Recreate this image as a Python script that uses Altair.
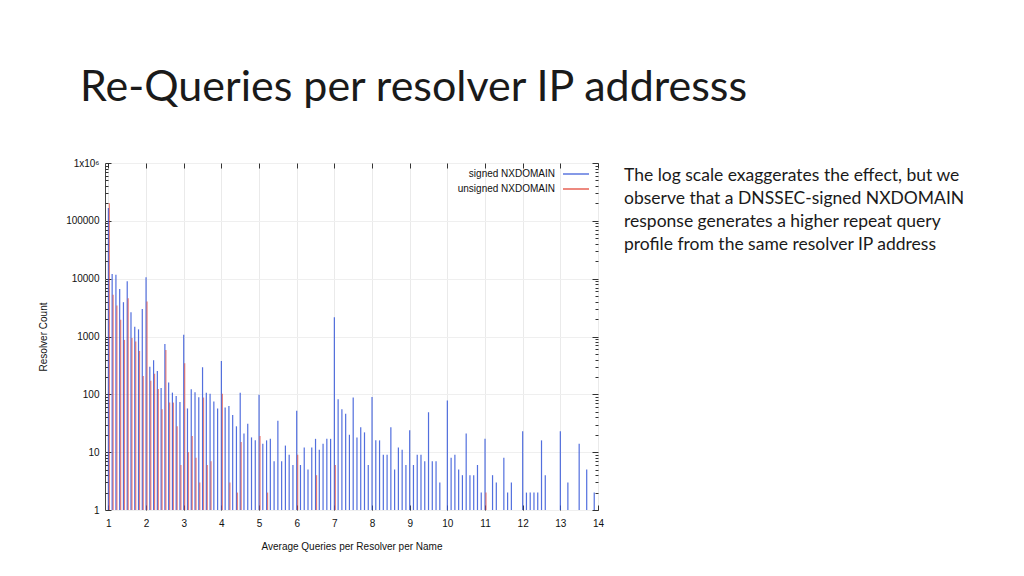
import altair as alt
import pandas as pd

# ---- data (bins of 0.1 queries) ----
signed_x = [1.0, 1.1, 1.2, 1.3, 1.4, 1.5, 1.6, 1.7, 1.8, 1.9,
            2.0, 2.1, 2.2, 2.3, 2.4, 2.5, 2.6, 2.7, 2.8, 2.9,
            3.0, 3.1, 3.2, 3.3, 3.4, 3.5, 3.6, 3.7, 3.8, 3.9,
            4.0, 4.1, 4.2, 4.3, 4.4, 4.5, 4.6, 4.7, 4.8, 4.9,
            5.0, 5.1, 5.2, 5.3, 5.4, 5.5, 5.6, 5.7, 5.8, 5.9,
            6.0, 6.1, 6.2, 6.3, 6.4, 6.5, 6.6, 6.7, 6.8, 6.9,
            7.0, 7.1, 7.2, 7.3, 7.4, 7.5, 7.6, 7.7, 7.8, 7.9,
            8.0, 8.1, 8.2, 8.3, 8.4, 8.5, 8.6, 8.7, 8.8, 8.9,
            9.0, 9.1, 9.2, 9.3, 9.4, 9.5, 9.6, 9.7, 9.8,
            10.0, 10.1, 10.2, 10.3, 10.4, 10.5, 10.6, 10.7, 10.8, 10.9,
            11.0, 11.2, 11.3, 11.5, 11.6, 11.7,
            12.0, 12.1, 12.2, 12.3, 12.4, 12.5, 12.6,
            13.0, 13.2, 13.5, 13.7, 13.9]
signed_count = [166000, 12100, 11700, 6660, 3920, 9040, 2630, 1480, 1330, 3000,
                10600, 301, 389, 254, 129, 745, 160, 107, 94, 74,
                1070, 57, 122, 109, 89, 294, 107, 102, 75, 57,
                378, 59, 63, 44, 28, 107, 21, 31, 18, 16,
                98, 14, 16, 17, 7, 35, 7, 13, 9, 6,
                52, 6, 12, 5, 12, 17, 11, 14, 17, 17,
                2150, 82, 55, 46, 20, 88, 18, 27, 22, 6,
                90, 16, 16, 9, 9, 27, 5, 12, 11, 6,
                24, 6, 9, 9, 7, 49, 7, 7, 3,
                78, 8, 9, 5, 4, 21, 4, 4, 6, 2,
                17, 4, 3, 8, 2, 3,
                23, 2, 2, 2, 2, 16, 4,
                23, 3, 14, 5, 2]

unsigned_x = [1.0, 1.1, 1.2, 1.3, 1.4, 1.5, 1.6, 1.7, 1.8, 1.9,
              2.0, 2.1, 2.2, 2.3, 2.4, 2.5, 2.6, 2.7, 2.8, 2.9,
              3.0, 3.1, 3.2, 3.3, 3.4, 3.5, 3.6, 3.7,
              4.0, 4.2, 4.4, 4.5, 5.0, 5.2, 6.0, 6.5, 7.0, 11.0]
unsigned_count = [202000, 5250, 3430, 1940, 873, 4590, 940, 816, 563, 208,
                  4020, 171, 227, 124, 55, 587, 72, 72, 28, 6,
                  345, 10, 19, 8, 3, 88, 6, 7,
                  102, 3, 2, 15, 19, 2, 9, 4, 6, 2]

series_names = ["signed NXDOMAIN", "unsigned NXDOMAIN"]
x_ticks = list(range(1, 15))
y_major = [1, 10, 100, 1000, 10000, 100000, 1000000]
y_minor = [m * 10 ** k for k in range(6) for m in range(2, 10)]

title_text = "Re-Queries per resolver IP addresss"
note_lines = ["The log scale exaggerates the effect, but we",
              "observe that a DNSSEC-signed NXDOMAIN",
              "response generates a higher repeat query",
              "profile from the same resolver IP address"]

BLUE = "#3456d8"
RED = "#e23b2b"
AXFONT = "Liberation Sans"

df_s = pd.DataFrame({"x": signed_x, "count": signed_count, "series": series_names[0]})
df_u = pd.DataFrame({"x": unsigned_x, "count": unsigned_count, "series": series_names[1]})

W, H = 493, 347
xscale = alt.Scale(domain=[0.91, 14], nice=False, zero=False)
yscale = alt.Scale(type="log", domain=[1, 1000000], nice=False)

# main layers with labelled axes
signed = alt.Chart(df_s).mark_rule(color=BLUE, strokeWidth=1.2, opacity=0.85).encode(
    x=alt.X("x:Q", scale=xscale,
            axis=alt.Axis(orient="bottom", values=x_ticks, format="d", ticks=False,
                          domain=False, grid=True, gridColor="#eaeaea", labelPadding=8,
                          labelFlush=False,
                          labelFont=AXFONT, labelFontSize=10, labelColor="#111",
                          title="Average Queries per Resolver per Name",
                          titleFont=AXFONT, titleFontSize=10, titleFontWeight="normal",
                          titleColor="#111", titleY=39, titleBaseline="alphabetic")),
    y=alt.Y("count:Q", scale=yscale,
            axis=alt.Axis(orient="left", values=y_major, ticks=False, domain=False,
                          grid=True, gridColor="#efefef", labelPadding=6,
                          labelFlush=False,
                          labelExpr="datum.value >= 1000000 ? '1x10⁶' : format(datum.value, 'd')",
                          labelFont=AXFONT, labelFontSize=10, labelColor="#111",
                          title="Resolver Count", titleFont=AXFONT, titleFontSize=10,
                          titleFontWeight="normal", titleColor="#111",
                          titleX=-62, titleBaseline="middle")),
    y2=alt.datum(1),
)

unsigned = alt.Chart(df_u).mark_rule(color=RED, strokeWidth=1.2, opacity=0.62, xOffset=1).encode(
    x=alt.X("x:Q", scale=xscale,
            axis=alt.Axis(orient="bottom", values=x_ticks, labels=False, domain=False,
                          grid=False, offset=-5, tickSize=5, tickColor="#333", title=None)),
    y=alt.Y("count:Q", scale=yscale,
            axis=alt.Axis(orient="left", values=y_major, labels=False, domain=False,
                          grid=False, offset=-6, tickSize=6, tickColor="#333", title=None)),
    y2=alt.datum(1),
)


def tick_layer(xaxis, yaxis):
    enc = {}
    enc["x"] = alt.X("x:Q", scale=xscale, axis=xaxis)
    enc["y"] = alt.Y("count:Q", scale=yscale, axis=yaxis)
    return alt.Chart(df_s).mark_point(opacity=0).encode(**enc)


top_minor_left = tick_layer(
    alt.Axis(orient="top", values=x_ticks, labels=False, domain=False, grid=False,
             offset=-5, tickSize=5, tickColor="#333", title=None),
    alt.Axis(orient="left", values=y_minor, labels=False, domain=False, grid=False,
             offset=-3, tickSize=3, tickColor="#333", title=None),
)
right_major = tick_layer(
    None,
    alt.Axis(orient="right", values=y_major, labels=False, domain=False, grid=False,
             offset=-6, tickSize=6, tickColor="#333", title=None),
)
right_minor = tick_layer(
    None,
    alt.Axis(orient="right", values=y_minor, labels=False, domain=False, grid=False,
             offset=-3, tickSize=3, tickColor="#333", title=None),
)

# legend (gnuplot style: label, then line sample)
leg_text_s = alt.Chart(df_s.head(1)).mark_text(
    align="right", baseline="middle", font=AXFONT, fontSize=10, color="#111"
).encode(x=alt.value(450), y=alt.value(11), text="series:N")
leg_line_s = alt.Chart(df_s.head(1)).mark_rule(color=BLUE, strokeWidth=1.2).encode(
    x=alt.value(458), x2=alt.value(484), y=alt.value(11))
leg_text_u = alt.Chart(df_u.head(1)).mark_text(
    align="right", baseline="middle", font=AXFONT, fontSize=10, color="#111"
).encode(x=alt.value(450), y=alt.value(26), text="series:N")
leg_line_u = alt.Chart(df_u.head(1)).mark_rule(color=RED, strokeWidth=1.2).encode(
    x=alt.value(458), x2=alt.value(484), y=alt.value(26))

# slide title and note
slide_title = alt.Chart(pd.DataFrame({"t": [title_text]})).mark_text(
    align="left", baseline="alphabetic", font="Lato", fontSize=43, fontWeight="normal",
    color="#1a1a1a"
).encode(x=alt.value(-25), y=alt.value(-62), text="t:N")

note = alt.Chart(pd.DataFrame({"t": [0]})).mark_text(
    align="left", baseline="alphabetic", font="Lato", fontSize=17.5, lineHeight=23,
    color="#1a1a1a", text=note_lines
).encode(x=alt.value(519), y=alt.value(18))

chart = alt.layer(
    signed, unsigned, top_minor_left, right_major, right_minor,
    leg_text_s, leg_line_s, leg_text_u, leg_line_u, slide_title, note
).resolve_axis(x="independent", y="independent").properties(
    width=W, height=H,
    autosize=alt.AutoSizeParams(type="none"),
    padding={"left": 97, "top": 155, "right": 410, "bottom": 50},
    background="white",
).configure_view(stroke="#444", strokeWidth=1)

chart.save("out.html", embed_options={"renderer": "svg", "actions": False})
